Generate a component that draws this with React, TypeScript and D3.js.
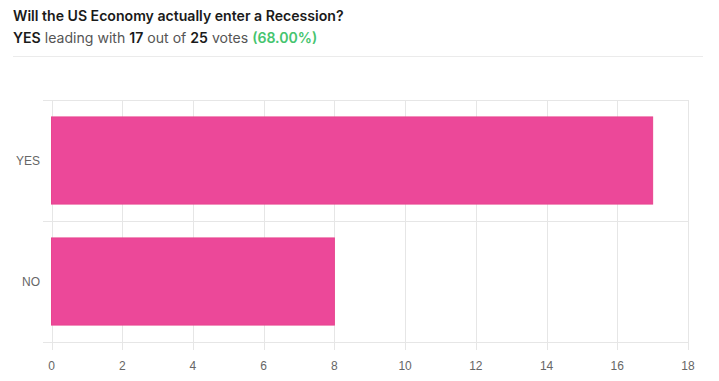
import React from "react";
import * as d3 from "d3";

const categories = ["YES", "NO"];
const votes = [17, 8];
const xTicks = [0, 2, 4, 6, 8, 10, 12, 14, 16, 18];
const title = "Will the US Economy actually enter a Recession?";

export default function App() {
  const W = 719, H = 381;
  const left = 51.5, right = 688, top = 100, bottom = 342;
  const x = d3.scaleLinear().domain([0, 18]).range([left, right]);
  const y = d3.scaleBand().domain(categories).range([top, bottom]).paddingInner(0).paddingOuter(0);
  const bw = y.bandwidth() * 0.72;
  const total = d3.sum(votes);
  const lead = votes[0];
  const pct = ((lead / total) * 100).toFixed(2);
  const font = "'Liberation Sans', Arial, Helvetica, sans-serif";
  const headFont = "Inter, 'Liberation Sans', Arial, sans-serif";
  const grid = "#e6e6e6";
  return (
    <svg width={W} height={H} style={{ position: "absolute", left: 0, top: 0, background: "#fff" }} fontFamily={font}>
      <text x={13} y={21} fontSize={14.1} fontWeight={600} fill="#1a1a1a" fontFamily={headFont}>{title}</text>
      <text x={13} y={42.5} fontSize={14.1} fill="#555" fontFamily={headFont}>
        <tspan fontWeight={600} fill="#1a1a1a">{categories[0]}</tspan>
        <tspan> leading with </tspan>
        <tspan fontWeight={600} fill="#1a1a1a">{lead}</tspan>
        <tspan> out of </tspan>
        <tspan fontWeight={600} fill="#1a1a1a">{total}</tspan>
        <tspan> votes </tspan>
        <tspan fontWeight={600} fill="#45c46e">({pct}%)</tspan>
      </text>
      <line x1={13} x2={703} y1={56.5} y2={56.5} stroke="#ebebeb" strokeWidth={1} />
      {[...categories.map((c) => y(c)!), bottom].map((yy, i) => (
        <line key={"h" + i} x1={43} x2={right} y1={Math.round(yy) + 0.5} y2={Math.round(yy) + 0.5} stroke={grid} />
      ))}
      {xTicks.map((t) => (
        <line key={"v" + t} x1={Math.round(x(t)) + 0.5} x2={Math.round(x(t)) + 0.5} y1={top} y2={bottom + 8} stroke={grid} />
      ))}
      {categories.map((c, i) => (
        <rect key={c} x={x(0)} y={y(c)! + (y.bandwidth() - bw) / 2} width={x(votes[i]) - x(0)} height={bw} fill="#ec4899" stroke="#e8458f" strokeWidth={1} />
      ))}
      {xTicks.map((t) => (
        <text key={"t" + t} x={x(t)} y={370} fontSize={12} fill="#666" textAnchor="middle">{t}</text>
      ))}
      {categories.map((c) => (
        <text key={"l" + c} x={40} y={y(c)! + y.bandwidth() / 2 + 4} fontSize={12} fill="#666" textAnchor="end">{c}</text>
      ))}
    </svg>
  );
}
